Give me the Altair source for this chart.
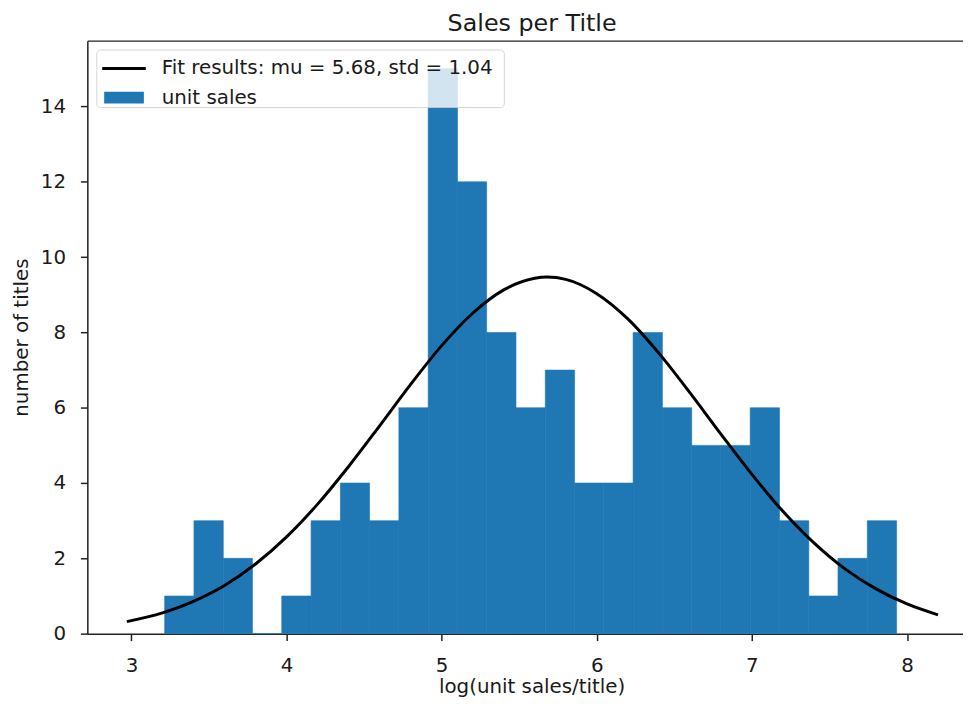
import altair as alt
import pandas as pd

# ---- data ----
bin_edges = [3.214, 3.403, 3.592, 3.780, 3.969, 4.158, 4.347, 4.535, 4.724,
             4.913, 5.102, 5.290, 5.479, 5.668, 5.857, 6.045, 6.234, 6.423,
             6.612, 6.800, 6.989, 7.178, 7.367, 7.555, 7.744, 7.933]
bin_counts = [1, 3, 2, 0, 1, 3, 4, 3, 6, 15, 12, 8, 6, 7, 4, 4, 8, 6, 5, 5,
              6, 3, 1, 2, 3]
curve_x = [2.97, 3.2, 3.4, 3.6, 3.8, 4.0, 4.2, 4.4, 4.6, 4.8, 5.0, 5.2, 5.4,
           5.6, 5.68, 5.8, 6.0, 6.2, 6.4, 6.6, 6.8, 7.0, 7.2, 7.4, 7.6, 7.8,
           8.0, 8.2]
curve_y = [0.32, 0.55, 0.86, 1.28, 1.85, 2.57, 3.44, 4.44, 5.52, 6.62, 7.65,
           8.51, 9.13, 9.44, 9.47, 9.41, 9.03, 8.36, 7.45, 6.40, 5.30, 4.23,
           3.25, 2.41, 1.72, 1.19, 0.79, 0.50]
x_ticks = [3, 4, 5, 6, 7, 8]
y_ticks = [0, 2, 4, 6, 8, 10, 12, 14]
chart_title = "Sales per Title"
fit_label = "Fit results: mu = 5.68,  std = 1.04"
hist_label = "unit sales"

bars_df = pd.DataFrame({
    "start": bin_edges[:-1],
    "end": bin_edges[1:],
    "count": bin_counts,
    "base": [0] * len(bin_counts),
    "series": hist_label,
})
curve_df = pd.DataFrame({"x": curve_x, "y": curve_y, "series": fit_label})

FONT = "DejaVu Sans"
TXT = "#1a1a1a"
SPINE = "#222222"
BLUE = "#1f77b4"

xscale = alt.Scale(domain=[2.7155, 8.361], nice=False, zero=False)
yscale = alt.Scale(domain=[0, 15.75], nice=False, zero=True)

y_axis = alt.Axis(values=y_ticks, grid=False, title="number of titles",
                  domainColor=SPINE, domainWidth=1.5,
                  tickColor=SPINE, tickWidth=1.5, tickSize=7,
                  labelPadding=15, labelFont=FONT, labelFontSize=20,
                  labelColor=TXT, titleFont=FONT, titleFontSize=20,
                  titleFontWeight="normal", titleColor=TXT,
                  titleX=-66, titleY=299, titleAlign="center",
                  titleBaseline="middle")

# top spine carries the chart title
top_axis = alt.Axis(orient="top", labels=False, ticks=False, grid=False,
                    domainColor=SPINE, domainWidth=1.5,
                    title=chart_title, titleFont=FONT, titleFontSize=24,
                    titleFontWeight="normal", titleColor=TXT,
                    titleX=448, titleY=-10, titleAlign="center",
                    titleBaseline="alphabetic")

bars = alt.Chart(bars_df).mark_bar(color=BLUE, stroke=BLUE, strokeWidth=0.6).encode(
    x=alt.X("start:Q", scale=xscale, axis=top_axis),
    x2="end:Q",
    y=alt.Y("count:Q", scale=yscale, axis=y_axis),
    y2="base:Q",
    fill=alt.Fill("series:N",
                  scale=alt.Scale(domain=[hist_label], range=[BLUE]),
                  legend=alt.Legend(
                      orient="none", legendX=13, legendY=44, padding=0,
                      symbolType="M-0.704,-0.444L2.259,-0.444L2.259,0.444L-0.704,0.444Z",
                      symbolSize=729, symbolStrokeWidth=0, labelOffset=35,
                      labelFontSize=20, labelFont=FONT, labelColor=TXT,
                      labelLimit=600, title=None, zindex=2)),
)

line = alt.Chart(curve_df).mark_line(strokeWidth=3, interpolate="monotone").encode(
    x=alt.X("x:Q", scale=xscale,
            axis=alt.Axis(values=x_ticks, grid=False,
                          title="log(unit sales/title)",
                          domainColor=SPINE, domainWidth=1.5,
                          tickColor=SPINE, tickWidth=1.5, tickSize=7,
                          labelPadding=15, labelFont=FONT, labelFontSize=20,
                          labelColor=TXT, titleFont=FONT, titleFontSize=20,
                          titleFontWeight="normal", titleColor=TXT,
                          titleX=448, titleY=59, titleAlign="center",
                          titleBaseline="alphabetic")),
    y=alt.Y("y:Q", scale=yscale, axis=y_axis),
    stroke=alt.Stroke("series:N",
                      scale=alt.Scale(domain=[fit_label, " "],
                                      range=["black", "transparent"]),
                      legend=alt.Legend(
                          orient="none", legendX=9, legendY=9, padding=4,
                          fillColor="rgba(255,255,255,0.8)",
                          strokeColor="rgba(204,204,204,0.8)", cornerRadius=4,
                          symbolType="M-0.963,0L2.296,0", symbolSize=729,
                          symbolStrokeWidth=3, labelOffset=32, rowPadding=0,
                          labelFontSize=20, labelFont=FONT, labelColor=TXT,
                          labelLimit=600, title=None, zindex=1)),
)

chart = alt.layer(bars, line).resolve_axis(x="independent").properties(
    width=883,
    height=598,
    padding={"left": 80, "top": 30, "right": 0, "bottom": 65},
    autosize=alt.AutoSizeParams(type="none"),
).configure_view(stroke=None)

chart.save("out.html", embed_options={"renderer": "svg", "actions": False})
